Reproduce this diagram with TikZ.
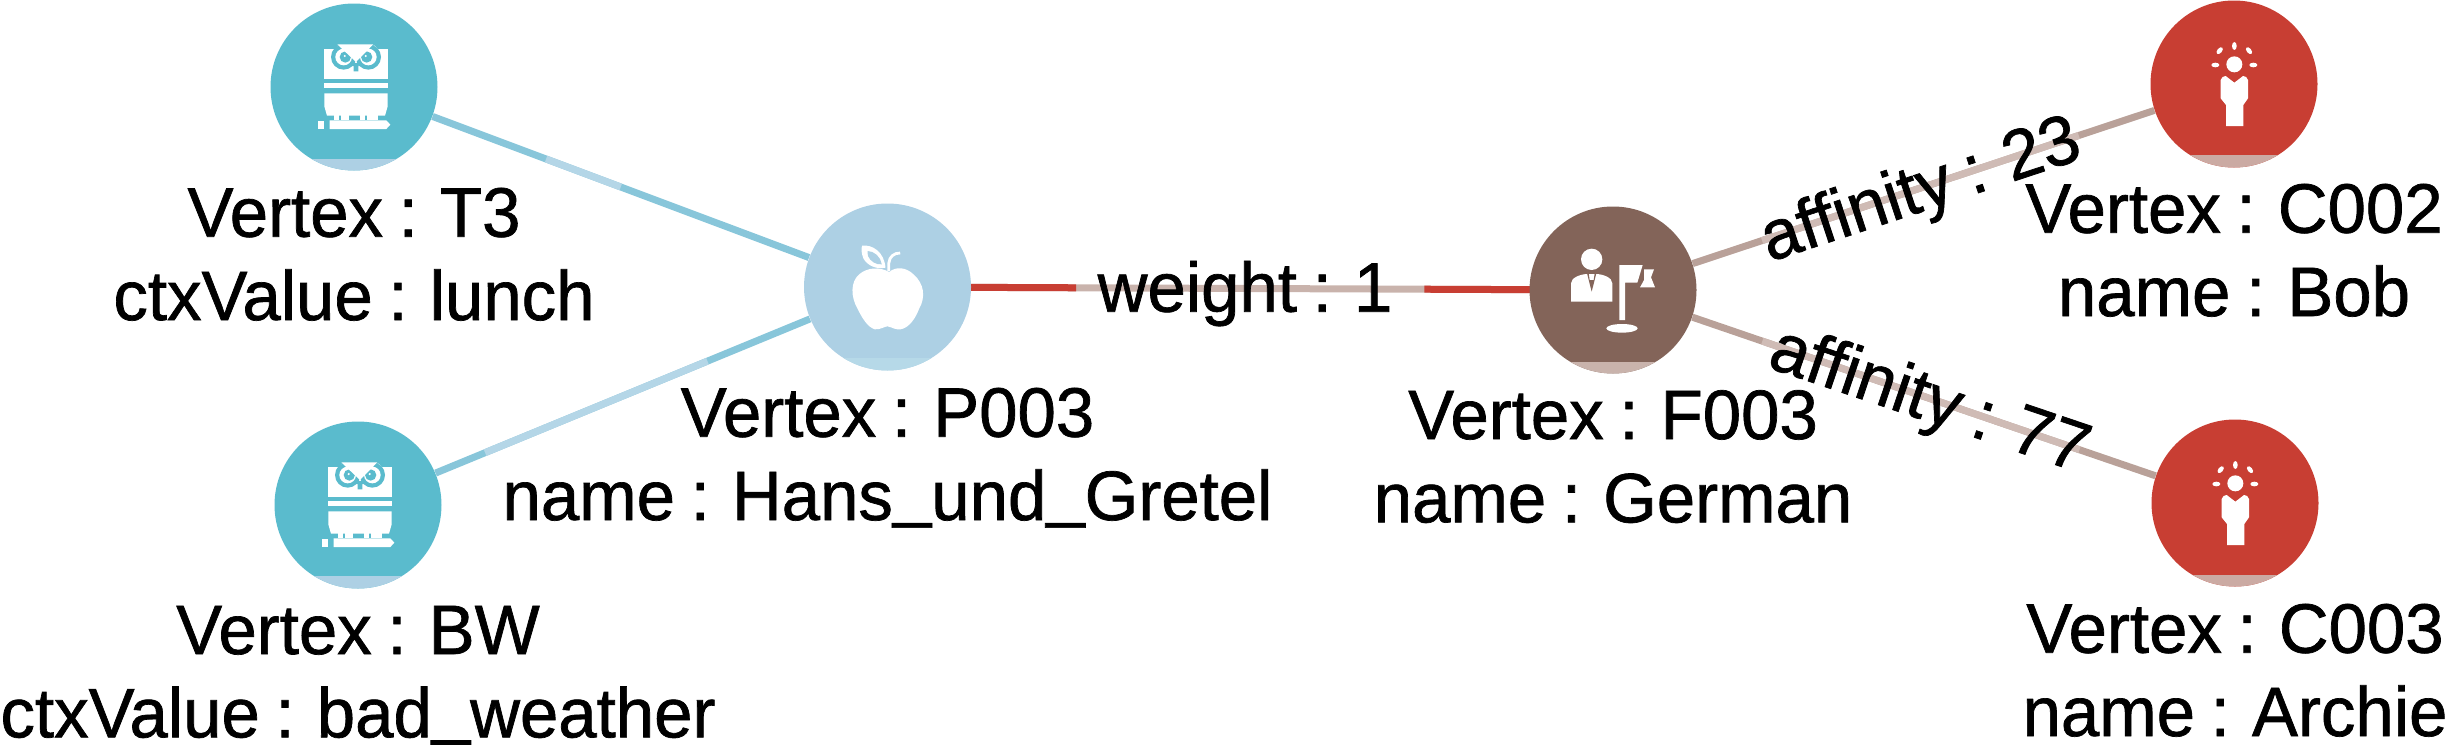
\documentclass[tikz,border=0pt]{standalone}
\usepackage{fontspec}
\setmainfont[FakeStretch=0.985,WordSpace=0.82,FakeBold=1]{Liberation Sans}
\usetikzlibrary{calc,backgrounds}
\definecolor{teal}{HTML}{5ABBCD}
\definecolor{lblue}{HTML}{ADD0E4}
\definecolor{brn}{HTML}{836459}
\definecolor{lbrn}{HTML}{C9B3AC}
\definecolor{rd}{HTML}{C83E33}
\definecolor{bluedark}{HTML}{88C6DA}
\definecolor{bluelight}{HTML}{B4D6E7}
\definecolor{bandp}{HTML}{B6D9E8}
\definecolor{affdark}{HTML}{B9A199}
\definecolor{afflight}{HTML}{CFBBB5}
\definecolor{bandr}{HTML}{CBAAA3}
\newcommand{\usc}{\raisebox{0.09em}{\_}}
\tikzset{
  vertex/.style={circle,minimum size=83.5pt,inner sep=0pt,fill=#1},
  edgeline/.style={line width=3.5pt,draw=#1},
  vlabel/.style={align=center,inner sep=0pt,font=\fontsize{35}{41.65}\selectfont,text=black},
  elabel/.style={anchor=base,inner sep=0pt,font=\fontsize{35}{41.65}\selectfont,text=black},
  icon/.style={x=0.16667pt,y=-0.16667pt},
  owl/.pic={
    \fill[white] (-89,-114) rectangle (101,-25);
    \fill[white] (-48,-124) -- (62,-124) -- (75,-110) -- (-60,-110) -- cycle;
    \fill[teal] (-31,-90) circle[radius=38];
    \fill[teal] (43,-90) circle[radius=38];
    \fill[white] (-31,-90) circle[radius=25];
    \fill[white] (43,-90) circle[radius=25];
    \fill[teal] (-26,-90) circle[radius=17];
    \fill[teal] (38,-90) circle[radius=17];
    \fill[white] (-28,-93) circle[radius=3.5];
    \fill[white] (35,-93) circle[radius=3.5];
    \fill[white] (-50,-128) -- (58,-128) -- (6,-75) -- cycle;
    \fill[teal] (-12,-72) -- (20,-72) -- (13,-62) -- (13,-47) -- (-1,-47) -- (-1,-62) -- cycle;
    \fill[white] (-89,-12) rectangle (101,3);
    \fill[white] (-89,19) -- (101,19) -- (101,58) -- (93,86) -- (-81,86) -- (-89,58) -- cycle;
    \fill[white] (-60,76) rectangle (-46,100);
    \fill[white] (-38,76) rectangle (-14,100);
    \fill[white] (18,76) rectangle (32,100);
    \fill[white] (38,76) rectangle (72,100);
    \fill[white] (-73,100) -- (97,100) -- (109,113) -- (97,126) -- (-73,126) -- cycle;
    \fill[white] (-108,102) rectangle (-90,126);
  },
  apple/.pic={
    \fill[white] (5,-45) .. controls (25,-62) and (55,-60) .. (78,-38) .. controls (110,-10) and (115,30) .. (95,65) .. controls (80,105) and (55,130) .. (30,127) .. controls (15,125) and (8,118) .. (0,118) .. controls (-8,118) and (-20,128) .. (-38,127) .. controls (-60,120) and (-75,95) .. (-90,65) .. controls (-110,30) and (-112,-15) .. (-85,-38) .. controls (-62,-58) and (-25,-62) .. (5,-45) -- cycle;
    \fill[white] (-76,-124) .. controls (-45,-128) and (-10,-105) .. (-6,-58) .. controls (-35,-52) and (-60,-65) .. (-72,-85) .. controls (-78,-100) and (-80,-115) .. (-76,-124) -- cycle;
    \fill[lblue] (-60,-108) .. controls (-40,-108) and (-20,-90) .. (-17,-68) .. controls (-35,-66) and (-52,-78) .. (-58,-92) .. controls (-60,-98) and (-60,-104) .. (-60,-108) -- cycle;
    \draw[white,line width=1.4pt] (4,-48) -- (4,-72) .. controls (6,-92) and (20,-102) .. (38,-102);
  },
  manager/.pic={
    \fill[white] (-64,-92) circle[radius=32];
    \fill[white] (-126,35) -- (-126,-20) .. controls (-126,-38) and (-95,-48) .. (-76,-48) -- (-52,-48) .. controls (-32,-48) and (-2,-38) .. (-2,-20) -- (-2,35) -- cycle;
    \fill[brn] (-78,-50) -- (-64,5) -- (-50,-50) -- (-55,-50) -- (-58,-30) -- (-70,-30) -- (-73,-50) -- cycle;
    \fill[white] (19,-75) -- (89,-75) -- (73,-22) -- (36,-22) -- (36,90) -- (19,90) -- cycle;
    \fill[white] (93,-62) -- (123,-62) -- (114,-38) -- (126,-8) -- (81,-8) -- (93,-30) -- cycle;
    \fill[white] (27,115) ellipse[x radius=47,y radius=13];
  },
  idea/.pic={
    \fill[white] (1,-59) circle[radius=24];
    \fill[white] (1,-114) ellipse[x radius=7,y radius=12];
    \fill[white,rotate around={-40:(-43,-100)}] (-43,-100) ellipse[x radius=7,y radius=12];
    \fill[white,rotate around={40:(45,-100)}] (45,-100) ellipse[x radius=7,y radius=12];
    \fill[white] (-56,-57) ellipse[x radius=12,y radius=7];
    \fill[white] (58,-57) ellipse[x radius=12,y radius=7];
    \fill[white] (-40,-12) .. controls (-38,-20) and (-32,-24) .. (-25,-24) -- (1,-4) -- (27,-24) .. controls (34,-24) and (40,-20) .. (42,-12) -- (42,43) -- (28,63) -- (28,126) -- (-24,126) -- (-24,63) -- (-40,43) -- cycle;
  }
}
\newcommand{\vband}[3]{%
  \begin{scope}
    \clip (#1.center) circle[radius=41.75pt];
    \fill[#2] (0,#3) rectangle (2446,744);
  \end{scope}}
\newcommand{\cseg}[5]{\draw[edgeline=#5,line cap=butt] ($(#1)!#3!(#2)$) -- ($(#1)!#4!(#2)$);}
\begin{document}
\begin{tikzpicture}[x=0.5pt,y=-0.5pt]
\useasboundingbox (0,0) rectangle (2446,744);
\node[vertex=teal] (T3) at (354,87) {};
\node[vertex=teal] (BW) at (358,505) {};
\node[vertex=lblue] (P003) at (887.5,287) {};
\node[vertex=brn] (F003) at (1613,290) {};
\node[vertex=rd] (C002) at (2234,84) {};
\node[vertex=rd] (C003) at (2235,503) {};
\vband{T3}{lblue}{159}
\vband{BW}{lblue}{576}
\vband{P003}{bandp}{358}
\vband{F003}{lbrn}{362}
\vband{C002}{bandr}{155}
\vband{C003}{bandr}{575}
\pic[icon] at (T3.center) {owl};
\pic[icon] at (BW.center) {owl};
\pic[icon] at (P003.center) {apple};
\pic[icon] at (F003.center) {manager};
\pic[icon] at (C002.center) {idea};
\pic[icon] at (C003.center) {idea};
\begin{scope}[on background layer]
\draw[edgeline=bluedark] (T3) -- (P003);
\cseg{T3}{P003}{0.36}{0.50}{bluelight}
\draw[edgeline=bluedark] (BW) -- (P003);
\cseg{BW}{P003}{0.24}{0.66}{bluelight}
\draw[edgeline=lbrn] (P003) -- (F003);
\cseg{P003}{F003}{0.1}{0.26}{rd}
\cseg{P003}{F003}{0.74}{0.9}{rd}
\draw[edgeline=affdark] (F003) -- (C002);
\cseg{F003}{C002}{0.24}{0.75}{afflight}
\draw[edgeline=affdark] (F003) -- (C003);
\cseg{F003}{C003}{0.24}{0.75}{afflight}
\end{scope}
\node[vlabel] (lT3) at (354,261.7) {\strut Vertex : T3\\\strut ctxValue : lunch};
\node[vlabel] (lBW) at (358,679) {\strut Vertex : BW\\\strut ctxValue : bad\usc weather};
\node[vlabel] (lP003) at (887.5,461.7) {\strut Vertex : P003\\\strut name : Hans\usc und\usc Gretel};
\node[vlabel] (lF003) at (1613,464) {\strut Vertex : F003\\\strut name : German};
\node[vlabel] (lC002) at (2234,257.7) {\strut Vertex : C002\\\strut name : Bob};
\node[vlabel] (lC003) at (2235,677.7) {\strut Vertex : C003\\\strut name : Archie};
\node[elabel] (e1) at (1245,311.7) {weight : 1};
\node[elabel,rotate=18.3] (e2) at (1927,210) {affinity : 23};
\node[elabel,rotate=-18.7] (e3) at (1923,420) {affinity : 77};
\end{tikzpicture}
\end{document}
